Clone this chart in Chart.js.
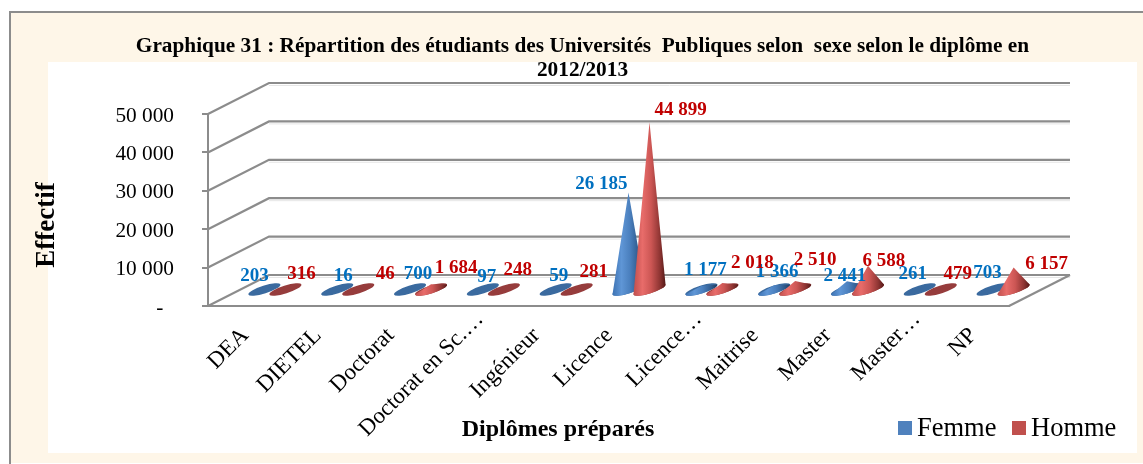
<!DOCTYPE html>
<html>
<head>
<meta charset="utf-8">
<style>html,body{margin:0;padding:0;background:#fff}#w{position:relative;width:1143px;height:464px}</style>
<script src="https://cdn.jsdelivr.net/npm/chart.js@4"></script>
</head>
<body>
<div id="w"><canvas id="c" width="1143" height="464"></canvas></div>
<script>
const categories = ["DEA","DIETEL","Doctorat","Doctorat en Sc.…","Ingénieur","Licence","Licence…","Maitrise","Master","Master…","NP"];
const femme = [203,16,700,97,59,26185,1177,1366,2441,261,703];
const homme = [316,46,1684,248,281,44899,2018,2510,6588,479,6157];
const seriesNames = ["Femme","Homme"];
const titleLines = ["Graphique 31 : Répartition des étudiants des Universités  Publiques selon  sexe selon le diplôme en","2012/2013"];
const xTitle = "Diplômes préparés";
const yTitle = "Effectif";
// label nudges from the cone apex, px
const femmeNudge = [[-10,-14],[6,-14],[8,-14],[4,-13],[3,-14],[-27,-8],[4,-16],[3,-13],[-2,-5],[-7,-15],[-5,-15]];
const hommeNudge = [[16,-15],[27,-16],[25,-16],[14,-19],[17,-17],[31,-12],[30,-20],[20,-21],[16,-5],[17,-15],[33,-3]];

const SERIF = '"Liberation Serif"';
const DEPTH_X = 61, DEPTH_Y = 31;
const FRONT_GREY = '#8c8c8c';
const LEGEND_COL = ['#4F81BD','#C0504D'];
const TEXT_COL = ['#0070C0','#C00000'];
const NUDGES = [femmeNudge, hommeNudge];
const CONE = [
  {base:'#3a6a9f', stops:['#3c72b3','#5f96d6','#4a7fbd','#2f5a8c','#1d3a5e']},
  {base:'#963c3c', stops:['#c04f4d','#e86c6a','#cc5654','#8f3533','#541917']}
];

function fmt(v){ return v===0 ? '-  ' : String(v).replace(/\B(?=(\d{3})+$)/g,' '); }

function cone(ctx, cx, cy, apexY, idx){
  const a = 16.8, b = 3.9, rot = -17.4*Math.PI/180;
  const c = CONE[idx];
  const lx = cx - a*Math.cos(rot), ly = cy - a*Math.sin(rot);
  const rx = cx + a*Math.cos(rot);
  ctx.save();
  ctx.beginPath(); ctx.ellipse(cx,cy,a,b,rot,0,Math.PI*2);
  ctx.fillStyle = c.base; ctx.fill();
  if (cy - apexY > 2){
    const g = ctx.createLinearGradient(lx,0,rx,0);
    [0,.28,.55,.82,1].forEach((p,i)=>g.addColorStop(p,c.stops[i]));
    ctx.beginPath();
    ctx.moveTo(cx,apexY); ctx.lineTo(lx,ly);
    ctx.ellipse(cx,cy,a,b,rot,Math.PI,0,true);
    ctx.closePath();
    ctx.fillStyle = g; ctx.fill();
  }
  ctx.restore();
}

const scene = {
  id:'scene',
  afterLayout(chart){
    const t = chart.titleBlock; t.left = 135; t.right = 1030; t.top += 1; t.bottom += 1;
  },
  beforeDraw(chart){
    const ctx = chart.ctx, a = chart.chartArea, ys = chart.scales.y;
    ctx.save();
    ctx.fillStyle='#fff'; ctx.fillRect(0,0,1143,464);
    ctx.fillStyle='#FEF6E8'; ctx.fillRect(9,11,1134,452);
    ctx.strokeStyle=FRONT_GREY; ctx.lineWidth=2;
    ctx.beginPath(); ctx.moveTo(10,464); ctx.lineTo(10,12); ctx.lineTo(1143,12); ctx.stroke();
    ctx.fillStyle='#fff'; ctx.fillRect(48,62,1089,391);
    const R = a.right + DEPTH_X, L = a.left + DEPTH_X;
    ys.ticks.forEach(t=>{
      const y = ys.getPixelForValue(t.value);
      ctx.strokeStyle='#e6e6e6'; ctx.lineWidth=1;
      ctx.beginPath(); ctx.moveTo(L,y-DEPTH_Y+2.5); ctx.lineTo(R,y-DEPTH_Y+2.5); ctx.stroke();
      ctx.strokeStyle=FRONT_GREY; ctx.lineWidth=2.2;
      ctx.beginPath(); ctx.moveTo(a.left,y); ctx.lineTo(L,y-DEPTH_Y); ctx.lineTo(R,y-DEPTH_Y); ctx.stroke();
    });
    // floor right edge
    ctx.beginPath(); ctx.moveTo(a.right,a.bottom); ctx.lineTo(R,a.bottom-DEPTH_Y); ctx.stroke();
    ctx.restore();
  },
  beforeDatasetDraw(){ return false; },
  afterDatasetsDraw(chart){
    const ctx = chart.ctx;
    const metas = [chart.getDatasetMeta(0), chart.getDatasetMeta(1)];
    const apex = el => (el.base - DEPTH_Y/2) - (el.base - el.y)*0.975;
    categories.forEach((_,i)=>{
      metas.forEach((m,k)=>{
        const el = m.data[i];
        cone(ctx, el.x + DEPTH_X/2, el.base - DEPTH_Y/2, apex(el), k);
      });
    });
    ctx.save();
    ctx.textAlign='center'; ctx.textBaseline='middle';
    ctx.font='bold 19px '+SERIF;
    metas.forEach((m,k)=>{
      ctx.fillStyle=TEXT_COL[k];
      m.data.forEach((el,i)=>{
        const n = NUDGES[k][i];
        ctx.fillText(fmt(chart.data.datasets[k].data[i]), el.x+DEPTH_X/2+n[0], apex(el)+n[1]);
      });
    });
    // axis titles
    ctx.fillStyle='#000';
    ctx.font='bold 24px '+SERIF;
    ctx.fillText(xTitle, 558, 429.5);
    ctx.save();
    ctx.translate(47.5,225); ctx.rotate(-Math.PI/2);
    ctx.font='bold 27px '+SERIF;
    ctx.fillText(yTitle,0,0);
    ctx.restore();
    // legend
    ctx.textAlign='left'; ctx.font='26.5px '+SERIF;
    const sx=[898,1012];
    seriesNames.forEach((s,k)=>{
      ctx.fillStyle=LEGEND_COL[k]; ctx.fillRect(sx[k],421,14,14);
      ctx.fillStyle='#000'; ctx.fillText(s,sx[k]+19,429.5);
    });
    ctx.restore();
  }
};

new Chart(document.getElementById('c'),{
  type:'bar',
  data:{labels:categories,datasets:[
    {label:seriesNames[0],data:femme,backgroundColor:LEGEND_COL[0]},
    {label:seriesNames[1],data:homme,backgroundColor:LEGEND_COL[1]}
  ]},
  plugins:[scene],
  options:{
    responsive:false,animation:false,
    layout:{padding:{left:0,right:134,top:33,bottom:0}},
    datasets:{bar:{categoryPercentage:0.577,barPercentage:1}},
    plugins:{
      legend:{display:false},
      tooltip:{enabled:false},
      title:{display:true,text:titleLines,color:'#000',
        font:{family:SERIF,size:21.3,weight:'bold',lineHeight:24/21.3},
        padding:{top:0,bottom:33}}
    },
    scales:{
      x:{
        afterFit(s){ s.height = 158; },
        grid:{display:false,drawTicks:false},
        border:{display:true,color:FRONT_GREY,width:2},
        ticks:{autoSkip:false,minRotation:45,maxRotation:45,color:'#000',padding:0,labelOffset:17,
          font:{family:SERIF,size:23},
          callback(v){ const s=categories[v]; return s.endsWith('…') ? s : s+'    '; }}
      },
      y:{
        min:0,max:50000,
        afterFit(s){ s.width = 208; },
        grid:{drawOnChartArea:false,drawTicks:true,tickLength:6,color:FRONT_GREY,lineWidth:2},
        border:{display:true,color:FRONT_GREY,width:2},
        ticks:{stepSize:10000,color:'#000',padding:28,labelOffset:2,font:{family:SERIF,size:21.3},callback:v=>fmt(v)}
      }
    }
  }
});
</script>
</body>
</html>
